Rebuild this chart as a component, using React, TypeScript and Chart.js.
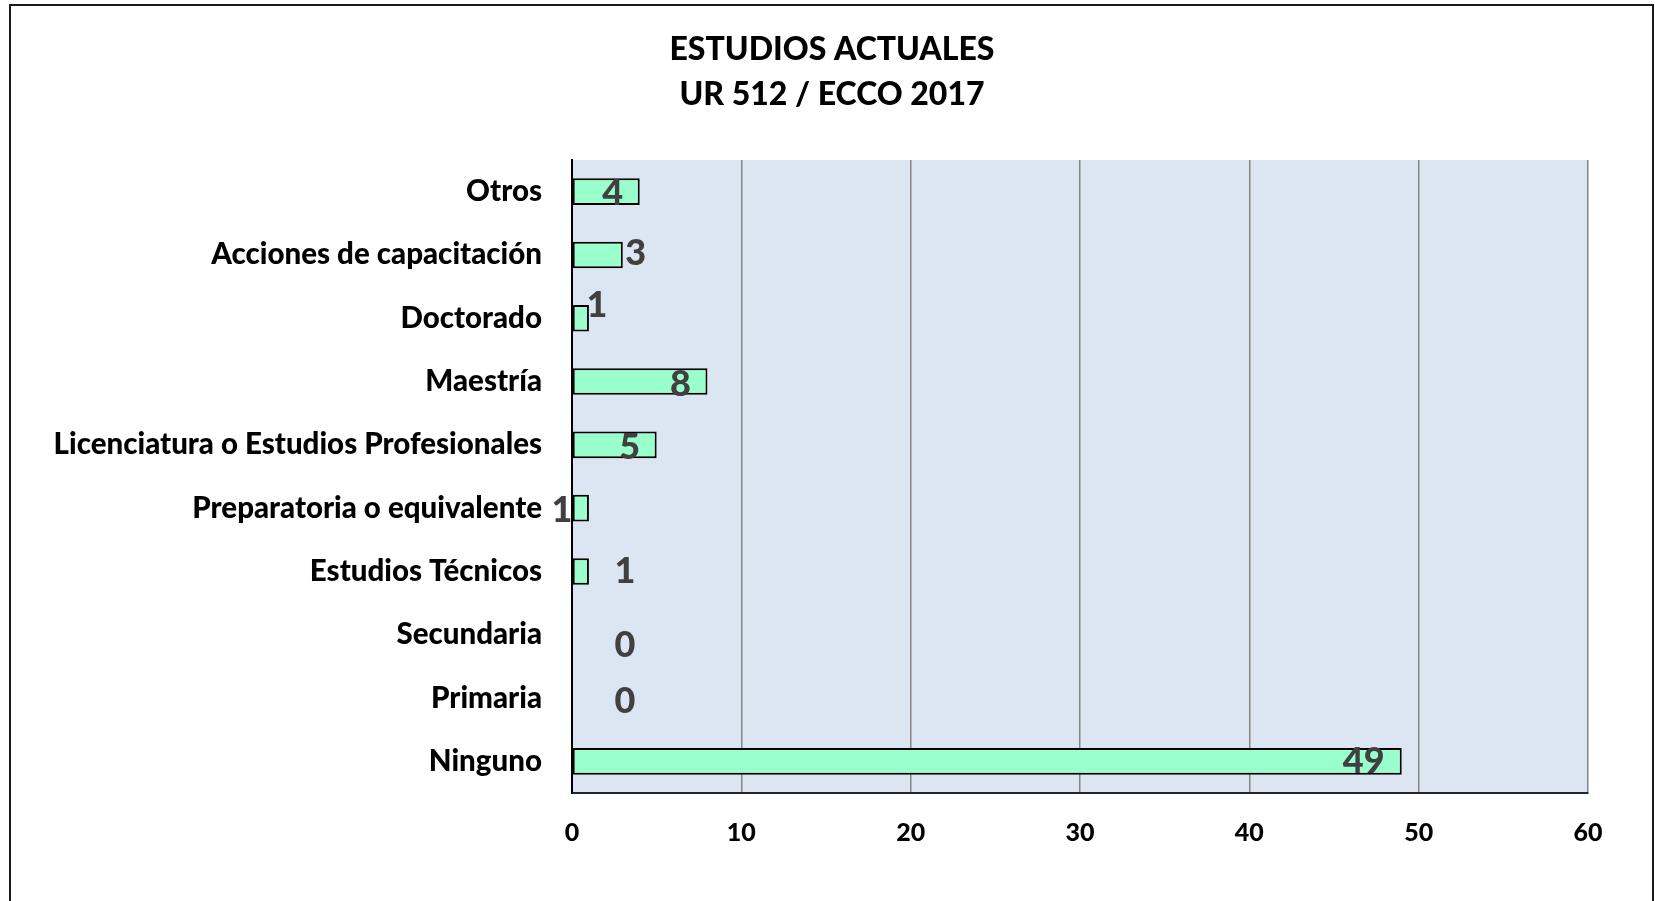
import React, { useEffect, useRef } from "react";
import { Chart, registerables } from "chart.js";

Chart.register(...registerables);

const categories = [
  "Otros",
  "Acciones de capacitación",
  "Doctorado",
  "Maestría",
  "Licenciatura o Estudios Profesionales",
  "Preparatoria o equivalente",
  "Estudios Técnicos",
  "Secundaria",
  "Primaria",
  "Ninguno",
];
const values = [4, 3, 1, 8, 5, 1, 1, 0, 0, 49];
const xTicks = [0, 10, 20, 30, 40, 50, 60];
const titleLines = ["ESTUDIOS ACTUALES", "UR 512 / ECCO 2017"];
// label nudges (px) relative to the bar end, mimicking the hand-placed labels
const labelDx = [-27, 13, 8, -27, -27, -27, 36, 53, 53, -38];
const labelDy = [2, -2, -13, 3, 3, 2, 0, 11, 3, 0];

const FONT = "Lato, 'Open Sans', sans-serif";

const decorPlugin = {
  id: "decor",
  beforeDraw(chart: any) {
    const { ctx, chartArea } = chart;
    ctx.save();
    ctx.fillStyle = "#ffffff";
    ctx.fillRect(0, 0, chart.width, chart.height);
    ctx.fillStyle = "#DCE6F2";
    ctx.fillRect(chartArea.left, chartArea.top, chartArea.right - chartArea.left, chartArea.bottom - chartArea.top);
    ctx.restore();
  },
  afterDraw(chart: any) {
    const { ctx } = chart;
    ctx.save();
    ctx.strokeStyle = "#1a1a1a";
    ctx.lineWidth = 2;
    ctx.strokeRect(10, 5, 1643, 1000);
    ctx.fillStyle = "#000000";
    ctx.font = `900 32px ${FONT}`;
    ctx.textAlign = "center";
    ctx.textBaseline = "middle";
    ctx.fillText(titleLines[0], 832, 50);
    ctx.fillText(titleLines[1], 832, 95);
    ctx.restore();
  },
  afterDatasetsDraw(chart: any) {
    const { ctx } = chart;
    const meta = chart.getDatasetMeta(0);
    ctx.save();
    ctx.fillStyle = "#404040";
    ctx.font = `900 36px ${FONT}`;
    ctx.textAlign = "center";
    ctx.textBaseline = "middle";
    meta.data.forEach((el: any, i: number) => {
      ctx.fillText(String(values[i]), el.x + labelDx[i], el.y + labelDy[i]);
    });
    ctx.restore();
  },
};

export default function App() {
  const ref = useRef<HTMLCanvasElement | null>(null);
  useEffect(() => {
    if (!ref.current) return;
    const chart = new Chart(ref.current, {
      type: "bar",
      data: {
        labels: categories,
        datasets: [
          {
            data: values,
            backgroundColor: "#99FFCC",
            borderColor: "#000000",
            borderWidth: 2,
            borderSkipped: false,
            barPercentage: 0.42,
            categoryPercentage: 1,
          },
        ],
      },
      options: {
        indexAxis: "y",
        animation: false,
        responsive: false,
        maintainAspectRatio: false,
        layout: { padding: { top: 160, right: 67, left: 0, bottom: 0 } },
        plugins: {
          legend: { display: false },
          title: { display: false },
          tooltip: { enabled: false },
        },
        scales: {
          x: {
            min: 0,
            max: 60,
            afterBuildTicks(scale: any) {
              scale.ticks = xTicks.map((v) => ({ value: v }));
            },
            afterFit(scale: any) {
              scale.height = 108;
            },
            grid: { color: "#868686", lineWidth: 1.5, drawTicks: false },
            border: { display: true, color: "#262626", width: 2 },
            ticks: {
              padding: 25,
              color: "#000000",
              font: { family: FONT, weight: "900", size: 25 },
            },
          },
          y: {
            afterFit(scale: any) {
              scale.width = 572;
            },
            grid: { display: false, drawTicks: false },
            border: { display: true, color: "#000000", width: 2 },
            ticks: {
              padding: 30,
              color: "#000000",
              font: { family: FONT, weight: "900", size: 29.5 },
            },
          },
        },
      },
      plugins: [decorPlugin],
    });
    return () => chart.destroy();
  }, []);
  return (
    <div style={{ position: "fixed", left: 0, top: 0, width: 1655, height: 901, background: "#fff" }}>
      <canvas ref={ref} width={1655} height={901} style={{ width: 1655, height: 901, display: "block" }} />
    </div>
  );
}
